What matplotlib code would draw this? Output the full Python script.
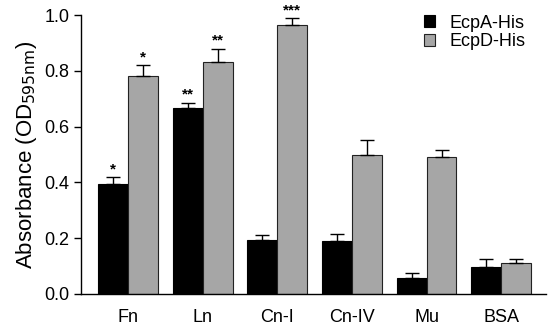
import matplotlib.pyplot as plt
import numpy as np

plt.rcParams['font.family'] = ['Liberation Sans', 'DejaVu Sans']

categories = ["Fn", "Ln", "Cn-I", "Cn-IV", "Mu", "BSA"]
ecpa = [0.394, 0.665, 0.194, 0.190, 0.058, 0.096]
ecpa_err = [0.026, 0.021, 0.018, 0.024, 0.018, 0.031]
ecpd = [0.781, 0.833, 0.964, 0.499, 0.491, 0.110]
ecpd_err = [0.040, 0.046, 0.024, 0.053, 0.025, 0.014]
ecpa_stars = ["*", "**", "", "", "", ""]
ecpd_stars = ["*", "**", "***", "", "", ""]

fig = plt.figure(figsize=(5.5, 3.28), dpi=100)
ax = fig.add_axes([81 / 550, 34 / 328, 465 / 550, 279 / 328])

x = np.arange(len(categories))
w = 0.4
ax.bar(x - w / 2, ecpa, w, color="black", edgecolor="black", linewidth=0.8,
       label="EcpA-His")
ax.bar(x + w / 2, ecpd, w, color="#a6a6a6", edgecolor="#222222", linewidth=0.8,
       label="EcpD-His")
ax.errorbar(x - w / 2, ecpa, yerr=[np.zeros(len(x)), ecpa_err], fmt="none",
            ecolor="black", elinewidth=1, capsize=5, capthick=1)
ax.errorbar(x + w / 2, ecpd, yerr=[np.zeros(len(x)), ecpd_err], fmt="none",
            ecolor="black", elinewidth=1, capsize=5, capthick=1)

for xi, v, e, s in zip(x - w / 2, ecpa, ecpa_err, ecpa_stars):
    if s:
        ax.text(xi, v + e + 0.003, s, ha="center", va="bottom", fontsize=11,
                fontweight="bold")
for xi, v, e, s in zip(x + w / 2, ecpd, ecpd_err, ecpd_stars):
    if s:
        ax.text(xi, v + e + 0.003, s, ha="center", va="bottom", fontsize=11,
                fontweight="bold")

ax.set_xlim(-0.63, 5.6)
ax.set_ylim(0, 1.0)
ax.set_yticks([0.0, 0.2, 0.4, 0.6, 0.8, 1.0])
ax.set_yticklabels(["0.0", "0.2", "0.4", "0.6", "0.8", "1.0"])
ax.set_xticks(x)
ax.set_xticklabels(categories)
ax.tick_params(axis="x", length=0, pad=11, labelsize=13)
ax.tick_params(axis="y", length=5, width=1, labelsize=13, direction="out")
ax.spines["top"].set_visible(False)
ax.spines["right"].set_visible(False)
ax.spines["left"].set_linewidth(1)
ax.spines["bottom"].set_linewidth(1)
ax.set_ylabel("Absorbance (OD$_{595\\mathrm{nm}}$)", fontsize=16, labelpad=4)

ax.legend(loc="upper right", bbox_to_anchor=(0.99, 1.06), frameon=False,
          fontsize=13, handlelength=0.6, handleheight=0.6, handletextpad=0.8,
          labelspacing=0.1)

plt.savefig("out.png", dpi=100)
